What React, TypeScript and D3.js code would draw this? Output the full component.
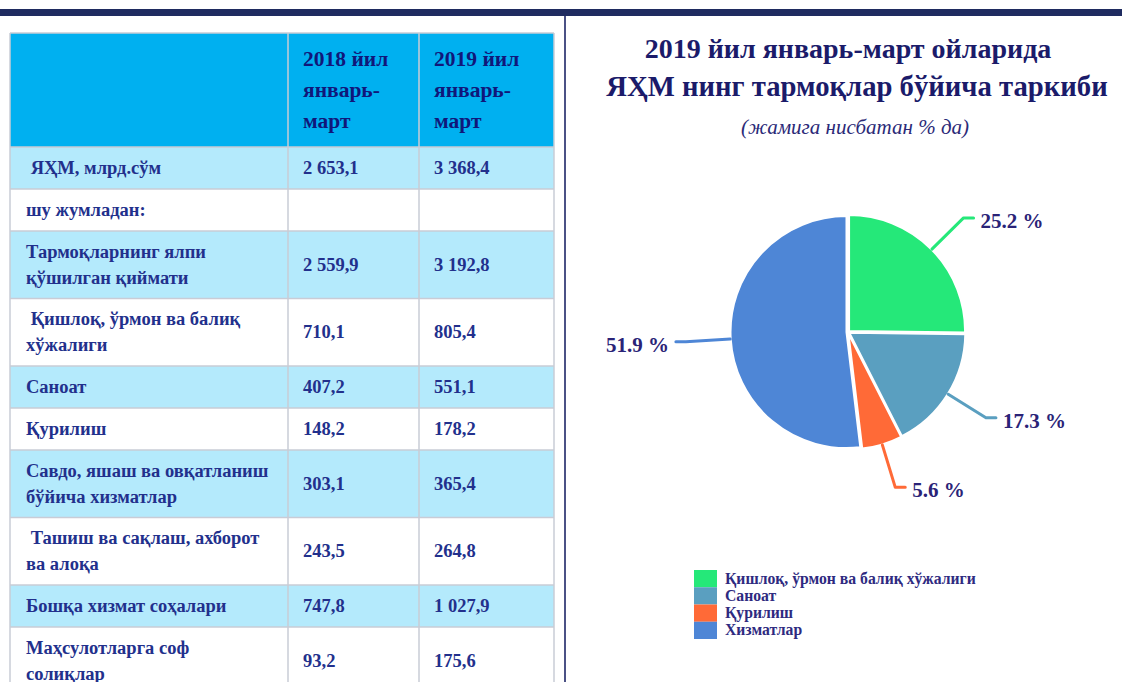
import React from 'react';
import * as d3 from 'd3';

const W = 1122;
const H = 682;

// ---- table data ----
const headerYears = ['2018 йил', '2019 йил'];
const headerPeriod = ['январь-', 'март'];
const rowLabels: string[][] = [
  [' ЯҲМ, млрд.сўм'],
  ['шу жумладан:'],
  ['Тармоқларнинг ялпи', 'қўшилган қиймати'],
  [' Қишлоқ, ўрмон ва балиқ', 'хўжалиги'],
  ['Саноат'],
  ['Қурилиш'],
  ['Савдо, яшаш ва овқатланиш', 'бўйича хизматлар'],
  [' Ташиш ва сақлаш, ахборот', 'ва алоқа'],
  ['Бошқа хизмат соҳалари'],
  ['Маҳсулотларга соф', 'солиқлар'],
];
const values2018 = ['2 653,1', '', '2 559,9', '710,1', '407,2', '148,2', '303,1', '243,5', '747,8', '93,2'];
const values2019 = ['3 368,4', '', '3 192,8', '805,4', '551,1', '178,2', '365,4', '264,8', '1 027,9', '175,6'];

// ---- pie data ----
const titleLines = ['2019 йил январь-март ойларида', 'ЯҲМ нинг тармоқлар бўйича таркиби'];
const subtitle = '(жамига нисбатан % да)';
const pieCategories = ['Қишлоқ, ўрмон ва балиқ хўжалиги', 'Саноат', 'Қурилиш', 'Хизматлар'];
const pieValues = [25.2, 17.3, 5.6, 51.9];
const pieLabels = ['25.2 %', '17.3 %', '5.6 %', '51.9 %'];
const pieColors = ['#25e879', '#5a9fc0', '#ff6a37', '#4e86d6'];

const SERIF = '"Liberation Serif", "Times New Roman", serif';

export default function App() {
  // table layout
  const colX = [10, 288, 419, 554];
  const headerTop = 33;
  const headerH = 114;
  const singleH = 42;
  const doubleH = 67.5;
  const rowHeights = rowLabels.map((l) => (l.length > 1 ? doubleH : singleH));
  const rowTops: number[] = [];
  let acc = headerTop + headerH;
  rowHeights.forEach((h) => {
    rowTops.push(acc);
    acc += h;
  });
  const tableBottom = acc;
  const textColor = '#22308c';
  const lineGap = 26;
  const bodySize = 18.5;

  // pie
  const cx = 848;
  const cy = 332;
  const R = 116;
  const arcs = d3.pie<number>().sort(null).value((d) => d)(pieValues);
  const arcGen = d3.arc<d3.PieArcDatum<number>>().innerRadius(0).outerRadius(R);
  const lineGen = d3.line().curve(d3.curveLinear);

  // legend
  const legY = d3.scaleBand<number>().domain(d3.range(pieCategories.length)).range([570, 639]).padding(0);

  return (
    <svg width={W} height={H} style={{ position: 'absolute', left: 0, top: 0, background: '#fff' }} fontFamily={SERIF}>
      <rect x={0} y={0} width={W} height={H} fill="#ffffff" />
      {/* top bar and divider */}
      <rect x={0} y={9} width={W} height={7} fill="#1f2b60" />
      <rect x={564} y={16} width={2} height={H - 16} fill="#4b5185" />

      {/* table header */}
      <rect x={colX[0]} y={headerTop} width={colX[3] - colX[0]} height={headerH} fill="#00b0f0" />
      {headerYears.map((yr, i) => {
        const x = colX[i + 1] + 15;
        const lines = [yr, ...headerPeriod];
        const mid = headerTop + headerH / 2;
        return (
          <g key={'h' + i}>
            {lines.map((t, j) => (
              <text key={j} x={x} y={mid + (j - 1) * 31 + 7} fontSize={21.5} fontWeight="bold" fill="#10177a">
                {t}
              </text>
            ))}
          </g>
        );
      })}

      {/* table rows */}
      {rowLabels.map((lines, i) => {
        const top = rowTops[i];
        const h = rowHeights[i];
        const mid = top + h / 2;
        return (
          <g key={'r' + i}>
            <rect x={colX[0]} y={top} width={colX[3] - colX[0]} height={h} fill={i % 2 === 0 ? '#b4eafc' : '#ffffff'} />
            {lines.map((t, j) => (
              <text
                key={j}
                x={26}
                y={mid + (j - (lines.length - 1) / 2) * lineGap + 6}
                fontSize={bodySize}
                fontWeight="bold"
                fill={textColor}
                style={{ whiteSpace: 'pre' }}
              >
                {t}
              </text>
            ))}
            <text x={colX[1] + 15} y={mid + 6} fontSize={bodySize} fontWeight="bold" fill={textColor}>
              {values2018[i]}
            </text>
            <text x={colX[2] + 15} y={mid + 6} fontSize={bodySize} fontWeight="bold" fill={textColor}>
              {values2019[i]}
            </text>
          </g>
        );
      })}

      {/* grid lines */}
      <g stroke="#c9ccd6" strokeWidth={1.5}>
        {[headerTop, ...rowTops].map((y, i) => (
          <line key={'hl' + i} x1={colX[0]} x2={colX[3]} y1={y} y2={y} />
        ))}
        {colX.map((x, i) => (
          <line key={'vl' + i} x1={x} x2={x} y1={headerTop} y2={tableBottom} />
        ))}
      </g>

      {/* title */}
      <text x={848} y={58} textAnchor="middle" fontSize={28} fontWeight="bold" fill="#1b1b6a">
        {titleLines[0]}
      </text>
      <text x={857} y={96} textAnchor="middle" fontSize={28.7} fontWeight="bold" fill="#1b1b6a">
        {titleLines[1]}
      </text>
      <text x={855} y={134} textAnchor="middle" fontSize={21} fontStyle="italic" fill="#2b2a78">
        {subtitle}
      </text>

      {/* pie */}
      <g transform={`translate(${cx},${cy})`}>
        {arcs.map((a, i) => {
          const mid = (a.startAngle + a.endAngle) / 2;
          const off = 1.5;
          const dx = Math.sin(mid) * off;
          const dy = -Math.cos(mid) * off;
          return (
            <path
              key={'s' + i}
              d={arcGen(a) || ''}
              transform={`translate(${dx},${dy})`}
              fill={pieColors[i]}
              stroke="#ffffff"
              strokeWidth={2}
            />
          );
        })}
        {arcs.map((a, i) => {
          const mid = (a.startAngle + a.endAngle) / 2;
          const sx = Math.sin(mid);
          const sy = -Math.cos(mid);
          const side = sx >= 0 ? 1 : -1;
          const p0: [number, number] = [sx * (R + 2), sy * (R + 2)];
          const p1: [number, number] = [sx * R * 1.4, sy * R * 1.4];
          const p2: [number, number] = [p1[0] + side * 10, p1[1]];
          return (
            <g key={'l' + i}>
              <path
                d={lineGen([p0, p1, p2]) || ''}
                fill="none"
                stroke={pieColors[i]}
                strokeWidth={3}
                strokeLinejoin="round"
                strokeLinecap="round"
              />
              <text
                x={p2[0] + side * 7}
                y={p2[1] + 10}
                textAnchor={side > 0 ? 'start' : 'end'}
                fontSize={21}
                fontWeight="bold"
                fill="#2a2377"
              >
                {pieLabels[i]}
              </text>
            </g>
          );
        })}
      </g>

      {/* legend */}
      {pieCategories.map((c, i) => {
        const y = legY(i) as number;
        const h = legY.bandwidth();
        return (
          <g key={'lg' + i}>
            <rect x={694} y={y} width={23} height={h} fill={pieColors[i]} />
            <text x={725} y={y + h / 2 + 5} fontSize={15.7} fontWeight="bold" fill="#2e2a80">
              {c}
            </text>
          </g>
        );
      })}
    </svg>
  );
}
